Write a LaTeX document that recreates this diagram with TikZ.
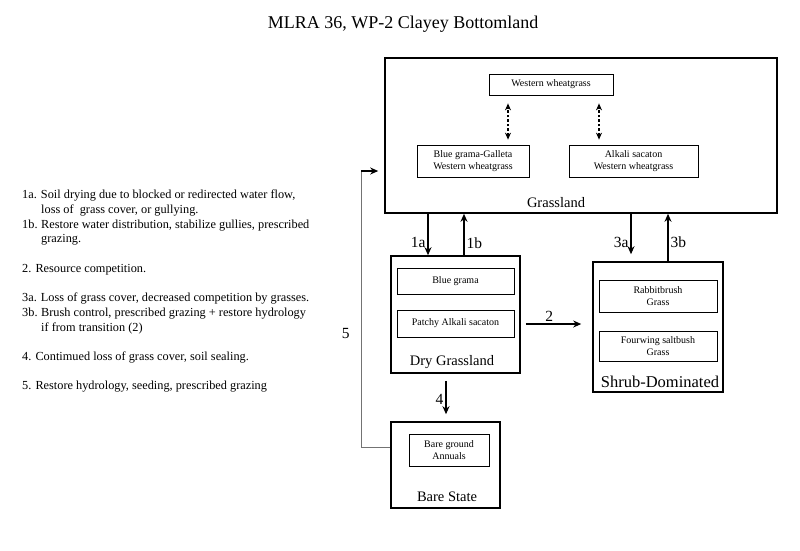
\documentclass[tikz,border=0pt]{standalone}
\usepackage{fontspec}
\setmainfont{Liberation Serif}
\usetikzlibrary{arrows.meta}
\begin{document}
\begin{tikzpicture}[
        x=1pt, y=-1pt,
        state/.style={draw, line width=1.6pt, inner sep=0pt},
        phase/.style={draw, line width=0.7pt, align=center, inner sep=0pt, font=\fontsize{10}{12.3}\selectfont},
        statename/.style={font=\fontsize{14.5}{17}\selectfont},
        trans/.style={-{Stealth[length=8pt, width=7pt]}, line width=1.1pt},
        tlabel/.style={inner sep=1pt, font=\fontsize{15.5}{18}\selectfont},
        pathway/.style={{Stealth[length=7pt, width=6pt]}-{Stealth[length=7pt, width=6pt]}, dash pattern=on 2.5pt off 2pt, line width=1.1pt},
        back/.style={draw=black!55, line width=0.8pt},
        note/.style={align=left, inner sep=0pt, font=\fontsize{12.3}{14.7}\selectfont}
    ]
    \useasboundingbox (0,0) rectangle (800,550);
    \node[font=\fontsize{18}{22}\selectfont] (title) at (403,24) {MLRA 36, WP-2 Clayey Bottomland};

    % Grassland
    \node[state, minimum width=392pt, minimum height=155pt] (grass) at (581,135.5) {};
    \node[phase, minimum width=124pt, minimum height=21pt] (west) at (551,84.5) {Western wheatgrass};
    \node[phase, minimum width=112pt, minimum height=32pt] (bgg) at (473,161) {Blue grama-Galleta\\Western wheatgrass};
    \node[phase, minimum width=129pt, minimum height=32pt] (alk) at (633.5,161) {Alkali sacaton\\Western wheatgrass};
    \node[statename] (grassname) at (556,203) {Grassland};
    \path ([xshift=35pt]bgg.north) coordinate (p1) ([xshift=-34.5pt]alk.north) coordinate (p2);
    \draw[pathway, shorten <=5pt, shorten >=8pt] (p1) -- (p1 |- west.south);
    \draw[pathway, shorten <=5pt, shorten >=8pt] (p2) -- (p2 |- west.south);

    % Dry Grassland
    \node[state, minimum width=129pt, minimum height=117pt] (dry) at (455.5,314.5) {};
    \node[phase, minimum width=117pt, minimum height=26pt] (bgr) at (455.5,281) {Blue grama};
    \node[phase, minimum width=117pt, minimum height=27pt] (pas) at (455.5,323.5) {Patchy Alkali sacaton};
    \node[statename] (dryname) at (452,362) {Dry Grassland};

    % Shrub-Dominated
    \node[state, minimum width=130pt, minimum height=130pt] (shrub) at (658,327) {};
    \node[phase, minimum width=118pt, minimum height=32pt] (rab) at (658,296) {Rabbitbrush\\Grass};
    \node[phase, minimum width=118pt, minimum height=30pt] (four) at (658,346) {Fourwing saltbush\\Grass};
    \node[statename, font=\fontsize{16.5}{19}\selectfont] (shrubname) at (660,382) {Shrub-Dominated};

    % Bare State
    \node[state, minimum width=109pt, minimum height=86pt] (bare) at (445.5,465) {};
    \node[phase, minimum width=80pt, minimum height=32pt] (bground) at (449,450) {Bare ground\\Annuals};
    \node[statename] (barename) at (447,497) {Bare State};

    % Transitions
    \path ([xshift=-27.5pt]dry.north) coordinate (t1a) ([xshift=8.5pt]dry.north) coordinate (t1b);
    \draw[trans] (t1a |- grass.south) -- (t1a) node[tlabel, pos=0.7, left=1pt] {1a};
    \draw[trans] (t1b) -- (t1b |- grass.south) node[tlabel, pos=0.3, right=1pt] {1b};
    \path ([xshift=-27pt]shrub.north) coordinate (t3a) ([xshift=10pt]shrub.north) coordinate (t3b);
    \draw[trans, shorten >=7pt] (t3a |- grass.south) -- (t3a) node[tlabel, pos=0.6, left=1pt] {3a};
    \draw[trans] (t3b) -- (t3b |- grass.south) node[tlabel, pos=0.4, right=1pt] {3b};
    \path ([yshift=-9.5pt]dry.east) coordinate (t2);
    \draw[trans, shorten <=5pt, shorten >=11pt] (t2) -- (t2 -| shrub.west) node[tlabel, pos=0.4, above=1pt] {2};
    \path ([xshift=-9.5pt]dry.south) coordinate (t4);
    \draw[trans, shorten <=7pt, shorten >=7pt] (t4) -- (t4 |- bare.north) node[tlabel, pos=0.55, left=1pt] {4};
    \path ([yshift=18pt]bare.west) coordinate (f5) ([yshift=-35.5pt]grass.west) coordinate (e5) (361,0) coordinate (k5);
    \draw[back] (f5) -- (f5 -| k5) -- (e5 -| k5) node[tlabel, pos=0.41, left=10pt] {5};
    \draw[trans, shorten >=6pt] (e5 -| k5) -- (e5);

    % Notes
    \node[note, anchor=north west] (notes) at (22,190) {%
        1a. Soil drying due to blocked or redirected water flow,\\
        \hspace*{19pt}loss of\ \ grass cover, or gullying.\\
        \makebox[19pt][l]{1b.}Restore water distribution, stabilize gullies, prescribed\\
        \hspace*{19pt}grazing.\\[14.7pt]
        2. Resource competition.\\[14.7pt]
        3a. Loss of grass cover, decreased competition by grasses.\\
        \makebox[19pt][l]{3b.}Brush control, prescribed grazing + restore hydrology\\
        \hspace*{19pt}if from transition (2)\\[14.7pt]
        4. Contimued loss of grass cover, soil sealing.\\[14.7pt]
        5. Restore hydrology, seeding, prescribed grazing};
\end{tikzpicture}
\end{document}
